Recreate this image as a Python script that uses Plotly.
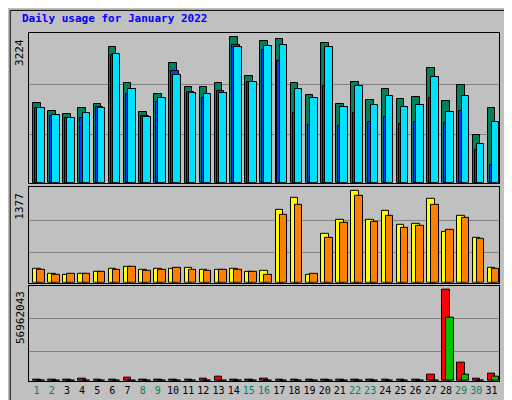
import plotly.graph_objects as go
from plotly.subplots import make_subplots

days = list(range(1, 32))
weekend = [1, 2, 8, 9, 15, 16, 22, 23, 29, 30]

hits = [1775, 1600, 1533, 1665, 1753, 3007, 2215, 1577, 1973, 2655, 2127, 2127, 2215, 3224, 2369, 3139,
        3183, 2215, 1951, 3095, 1753, 2237, 1841, 2083, 1863, 1907, 2545, 1819, 2171, 1049, 1665]
files = [1650, 1489, 1430, 1430, 1672, 2831, 1973, 1489, 1797, 2479, 2017, 1870, 2039, 3051, 2237, 2941,
         2699, 1555, 1269, 2149, 1247, 1555, 1357, 1467, 1313, 1357, 1885, 1335, 1599, 719, 389]
pages = [1650, 1511, 1430, 1555, 1650, 2853, 2083, 1452, 1870, 2391, 1995, 1973, 1995, 3007, 2237, 3029,
         3051, 2083, 1870, 3007, 1687, 2149, 1731, 1929, 1687, 1731, 2347, 1577, 1929, 851, 1357]
visits = [210, 135, 120, 135, 165, 210, 240, 195, 210, 210, 225, 195, 195, 210, 165, 180,
          1095, 1275, 120, 735, 945, 1377, 945, 1080, 870, 885, 1260, 765, 1005, 675, 225]
sites = [195, 120, 135, 135, 165, 195, 240, 180, 195, 225, 195, 180, 195, 195, 165, 120,
         1020, 1170, 135, 675, 900, 1305, 915, 1005, 825, 855, 1170, 795, 975, 660, 210]
kb_f = [600e3, 600e3, 600e3, 1.46e6, 600e3, 600e3, 2.08e6, 600e3, 600e3, 600e3, 600e3, 1.46e6, 2.7e6, 600e3,
        600e3, 1.46e6, 600e3, 600e3, 600e3, 600e3, 600e3, 600e3, 600e3, 600e3, 600e3, 600e3, 3.95e6,
        56962043, 11.43e6, 1.46e6, 4.57e6]
kb_out = [300e3] * 27 + [39.5e6, 3.95e6, 300e3, 2.7e6]

BG = "#c0c0c0"
W = 0.5


def bar(y, color, off):
    return go.Bar(x=days, y=y, width=W, offset=off, marker=dict(color=color, line=dict(color="black", width=1)),
                  showlegend=False)


fig = make_subplots(rows=3, cols=1, shared_xaxes=True)
fig.add_trace(bar(hits, "#00805c", -0.24), row=1, col=1)
fig.add_trace(bar(files, "#0040ff", -0.11), row=1, col=1)
fig.add_trace(bar(pages, "#00e0ff", 0.03), row=1, col=1)
fig.add_trace(bar(visits, "#ffff00", -0.24), row=2, col=1)
fig.add_trace(bar(sites, "#ff8000", 0.03), row=2, col=1)
fig.add_trace(bar(kb_f, "#ff0000", -0.24), row=3, col=1)
fig.add_trace(bar(kb_out, "#00c000", 0.03), row=3, col=1)

axis = dict(showline=True, mirror=True, linecolor="black", linewidth=1, zeroline=False,
            showticklabels=False, ticks="", gridcolor="#808080", gridwidth=1)
fig.update_yaxes(**axis)
fig.update_xaxes(showline=True, mirror=True, linecolor="black", showgrid=False, range=[0.5, 31.5],
                 ticks="", showticklabels=False)
fig.update_layout(
    yaxis=dict(domain=[0.570, 1], range=[0, 3322], tickvals=[1071, 2185]),
    yaxis2=dict(domain=[0.282, 0.558], range=[0, 1442], tickvals=[449, 943]),
    yaxis3=dict(domain=[0, 0.274], range=[0, 59.4e6], tickvals=[18.1e6, 38.7e6]),
)
ticktext = [f"<span style='color:{'#00805c' if d in weekend else 'black'}'>{d}</span>" for d in days]
fig.update_xaxes(showticklabels=True, tickvals=days, ticktext=ticktext, tickangle=0,
                 tickfont=dict(size=10), row=3, col=1)

fig.update_layout(
    width=512, height=400, barmode="overlay",
    paper_bgcolor=BG, plot_bgcolor=BG,
    margin=dict(l=21, r=21, t=25, b=24),
    font=dict(family="DejaVu Sans Mono", size=11, color="black"),
    bargap=0,
)

fig.add_annotation(text="<b>Daily usage for January 2022</b>", xref="paper", yref="paper", x=-0.02, y=1.065,
                   xanchor="left", yanchor="top", showarrow=False, font=dict(color="#0000ff", size=11))

# left max labels
for yref, ymax, label in [("y", 3224, "3224"), ("y2", 1377, "1377"), ("y3", 56962043, "56962043")]:
    fig.add_annotation(text=label, xref="paper", yref=yref, x=0, xshift=-9, y=ymax, xanchor="center",
                       yanchor="top", textangle=-90, showarrow=False, font=dict(size=11))

# right side legends
right = [
    ("y domain", "<span style='color:#00e0ff'>Pages</span> / <span style='color:#0040ff'>Files</span> / "
                 "<span style='color:#00805c'>Hits</span>"),
    ("y2 domain", "<span style='color:#ff8000'>Sites</span> / <span style='color:#ffff00'>Visits</span>"),
    ("y3 domain", "<span style='color:#ff0000'>kB F</span> / <span style='color:#0080ff'>kB In</span> / "
                  "<span style='color:#00c000'>kB Out</span>"),
]
for yref, txt in right:
    fig.add_annotation(text=txt, xref="paper", yref=yref, x=1, xshift=10, y=1, xanchor="center",
                       yanchor="top", textangle=-90, showarrow=False, font=dict(size=11))

fig.add_shape(type="rect", xref="paper", yref="paper", x0=-0.04, x1=1.04, y0=-0.065, y1=1.065,
              line=dict(color="black", width=1))

fig.write_html("out.html")
